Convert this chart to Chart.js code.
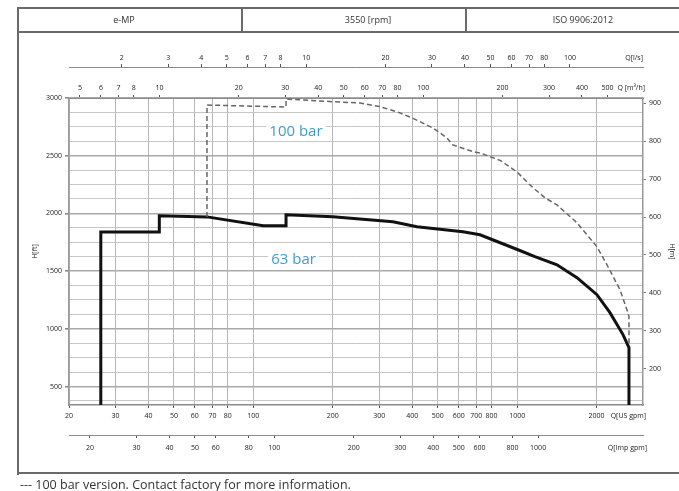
<!DOCTYPE html>
<html><head><meta charset="utf-8">
<script src="https://cdn.jsdelivr.net/npm/chart.js@4.4.0/dist/chart.umd.min.js"></script>
<style>
html,body{margin:0;padding:0;background:#fff;width:679px;height:491px;overflow:hidden;font-family:"Open Sans",sans-serif;}
#wrap{position:relative;width:679px;height:491px;}
canvas{position:absolute;left:0;top:0;}
.ln{position:absolute;background:#6a6a6a;}
.hd{position:absolute;top:14px;font-size:9px;color:#333;transform:translateX(-50%);white-space:nowrap;line-height:12px;}
#note{position:absolute;left:20px;top:477px;font-size:12.5px;color:#333;white-space:nowrap;line-height:16px;}
</style></head>
<body><div id="wrap">
<canvas id="c" width="679" height="491"></canvas>
<div class="ln" style="left:17px;top:7px;width:2px;height:468px"></div>
<div class="ln" style="left:17px;top:7px;width:662px;height:2px"></div>
<div class="ln" style="left:17px;top:31px;width:662px;height:2px"></div>
<div class="ln" style="left:241px;top:7px;width:2px;height:26px"></div>
<div class="ln" style="left:465px;top:7px;width:2px;height:26px"></div>
<div class="ln" style="left:17px;top:472px;width:662px;height:2px"></div>
<div class="hd" style="left:124px">e-MP</div>
<div class="hd" style="left:368px">3550 [rpm]</div>
<div class="hd" style="left:583px">ISO 9906:2012</div>
<div id="note">--- 100 bar version. Contact factory for more information.</div>
</div>
<script>
// ---- data ----
const usTicks  = [20,30,40,50,60,70,80,100,200,300,400,500,600,700,800,1000,2000];
const impTicks = [20,30,40,50,60,80,100,200,300,400,500,600,800,1000];
const m3hTicks = [5,6,7,8,10,20,30,40,50,60,70,80,100,200,300,400,500];
const lsTicks  = [2,3,4,5,6,7,8,10,20,30,40,50,60,70,80,100];
const ftLabels = [500,1000,1500,2000,2500,3000];
const ftGrid   = [375,500,625,750,875,1000,1125,1250,1375,1500,1625,1750,1875,2000,2125,2250,2375,2500,2625,2750,2875,3000];
const mTicks   = [200,300,400,500,600,700,800,900];

// 63 bar curve (Q in US gpm, H in ft)
const q63 = [26.4,26.4,44,44,66.7,109,133,133,200,338,417,623,723,1007,1168,1416,1686,2007,2248,2519,2654,2654];
const h63 = [340,1840,1840,1980,1970,1893,1893,1988,1971,1927,1884,1841,1815,1685,1625,1555,1443,1296,1140,950,837,340];
// 100 bar curve (dashed)
const q100 = [66.7,66.7,133,133,200,254,302,350,403,480,542,571,680,723,861,998,1118,1275,1416,1686,2007,2210,2454,2630,2654,2654];
const h100 = [1970,2939,2922,2991,2968,2957,2925,2881,2824,2740,2654,2593,2536,2524,2460,2360,2247,2135,2074,1919,1711,1538,1339,1140,1106,863];

const curveLabels = ['100 bar','63 bar'];
const labelQ = [145,142];
const labelH = [2706,1599];

const US_MIN=20, US_MAX=3000, FT_MIN=340, FT_MAX=3000;
const US_PER_IMP=1.20095, M3H_PER_US=0.227125, LS_PER_US=0.0630902, M_PER_FT=0.3048;

// ---- chart ----
const FONT='"Open Sans", sans-serif';
const tickFont={family:FONT,size:7};
const setTicks = list => s => { s.ticks = list.map(v=>({value:v})); };
const pts = (xs,ys) => xs.map((x,i)=>({x:x,y:ys[i]}));

function hAxis(pos, weight, min, max, list, height, pad, onArea){
  return {
    type:'logarithmic', position:pos, weight:weight, min:min, max:max,
    afterBuildTicks:setTicks(list),
    afterFit:s=>{s.height=height;},
    ticks:{callback:v=>String(v), autoSkip:false, maxRotation:0, minRotation:0, padding:pad, font:tickFont, color:'#1a1a1a'},
    grid:{display:true, drawOnChartArea:onArea, color:onArea?'#b6b6b6':'#666', lineWidth:1, drawTicks:true, tickLength:3, tickColor:'#555'},
    border:{display:true, color:'#8a8a8a', width:onArea?1.5:1}
  };
}

const axisNames = {
  id:'axisNames',
  afterDraw(chart){
    const ctx=chart.ctx, ca=chart.chartArea, sc=chart.scales;
    ctx.save();
    ctx.font='7px '+FONT; ctx.fillStyle='#1a1a1a'; ctx.textAlign='right'; ctx.textBaseline='middle';
    const lh=8.4;
    ctx.fillText('Q[US gpm]', ca.right+3, sc.x.top+3+4+lh/2);
    ctx.fillText('Q[Imp gpm]', ca.right+4, sc.xImp.top+3+6+lh/2);
    ctx.fillText('Q [m³/h]', ca.right+2, sc.xM3.bottom-3-3-lh/2);
    ctx.fillText('Q[l/s]', ca.right, sc.xLs.bottom-3-2-lh/2);
    // curve labels
    ctx.font='15px '+FONT; ctx.textAlign='center';
    curveLabels.forEach((t,i)=>{
      const px=sc.x.getPixelForValue(labelQ[i]), py=sc.y.getPixelForValue(labelH[i]);
      ctx.fillStyle='#fff'; const w=ctx.measureText(t).width;
      ctx.fillRect(px-w/2-3, py-9, w+6, 18);
      ctx.fillStyle='#3f9dcc'; ctx.fillText(t, px, py);
    });
    ctx.restore();
  }
};

new Chart(document.getElementById('c'), {
  type:'scatter',
  data:{datasets:[
    {data:pts(q100,h100), showLine:true, borderColor:'#666', borderWidth:1.5, borderDash:[5,3], pointRadius:0, tension:0, xAxisID:'x', yAxisID:'y'},
    {data:pts(q63,h63), showLine:true, borderColor:'#111', borderWidth:3, pointRadius:0, tension:0, xAxisID:'x', yAxisID:'y'}
  ]},
  options:{
    responsive:false, animation:false, devicePixelRatio:1,
    layout:{padding:{left:20,right:0,top:35,bottom:21}},
    plugins:{legend:{display:false}, tooltip:{enabled:false}},
    scales:{
      x: hAxis('bottom',0,US_MIN,US_MAX,usTicks,30,4,true),
      xImp: hAxis('bottom',1,US_MIN/US_PER_IMP,US_MAX/US_PER_IMP,impTicks,35,6,false),
      xM3: hAxis('top',0,US_MIN*M3H_PER_US,US_MAX*M3H_PER_US,m3hTicks,31,3,false),
      xLs: hAxis('top',1,US_MIN*LS_PER_US,US_MAX*LS_PER_US,lsTicks,32,2,false),
      y:{type:'linear', position:'left', min:FT_MIN, max:FT_MAX,
         afterBuildTicks:setTicks(ftGrid),
         afterFit:s=>{s.width=49;},
         ticks:{callback:v=>ftLabels.includes(v)?String(v):'', autoSkip:false, padding:3, font:tickFont, color:'#1a1a1a'},
         grid:{color:c=>(c.tick && ftLabels.includes(c.tick.value))?'#a9a9a9':'#c6c6c6',
               lineWidth:c=>(c.tick && ftLabels.includes(c.tick.value))?1.6:1,
               drawTicks:true, tickLength:4, tickColor:c=>(c.tick && ftLabels.includes(c.tick.value))?'#888':'rgba(0,0,0,0)'},
         border:{display:true,color:'#999',width:1.5},
         title:{display:true,text:'H[ft]',font:tickFont,color:'#1a1a1a',padding:{top:11,bottom:0}}},
      yR:{type:'linear', position:'right', min:FT_MIN*M_PER_FT, max:FT_MAX*M_PER_FT,
         afterBuildTicks:setTicks(mTicks),
         afterFit:s=>{s.width=36;},
         ticks:{callback:v=>String(v), autoSkip:false, padding:3, font:tickFont, color:'#1a1a1a'},
         grid:{drawOnChartArea:false, drawTicks:true, tickLength:3, color:'#777'},
         border:{display:true,color:'#999',width:1.5},
         title:{display:true,text:'H[m]',font:tickFont,color:'#1a1a1a',padding:{top:3,bottom:0}}}
    }
  },
  plugins:[axisNames]
});
</script>
</body></html>
